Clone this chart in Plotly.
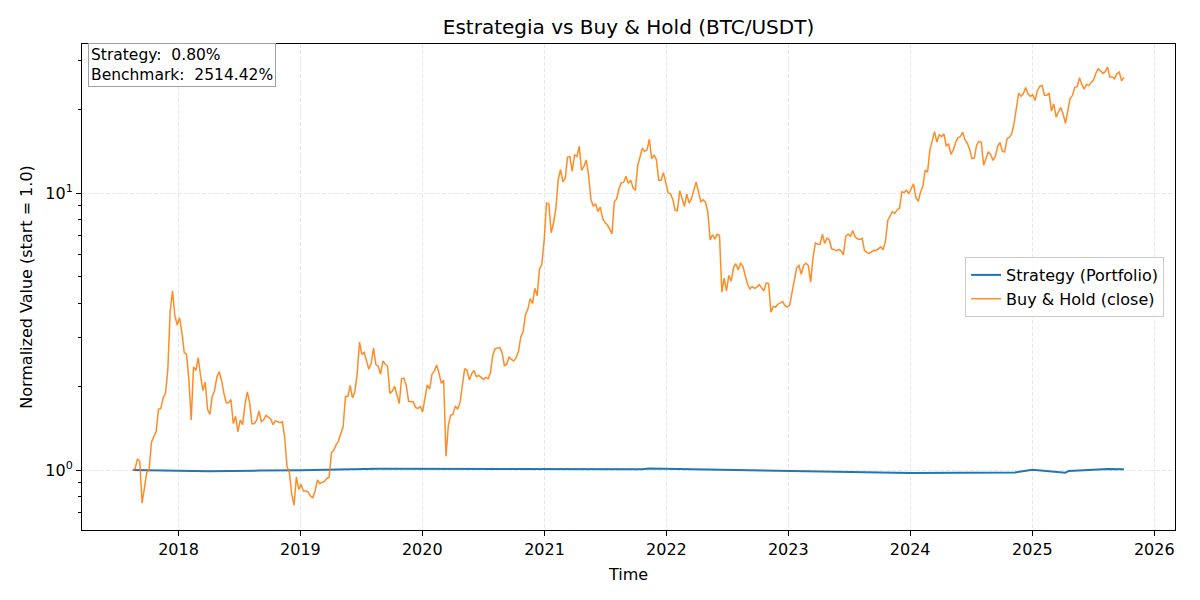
import pandas as pd
import plotly.graph_objects as go

# weekly BTC/USDT close (Thursdays), starting 2017-08-17
btc_2017 = [4285, 4330, 4700,
            4600, 3250, 3650, 4200,
            4300, 5400, 5650, 5900,
            7100, 7150, 7800, 8100, 9900,
            16000, 19000, 15500, 14300]
btc_2018 = [15200, 13500, 11400, 11200,
            9100, 6500, 10100, 9800,
            10900, 9400, 8300, 8900, 7100,
            6800, 7900, 8300, 9300,
            9700, 9000, 8100, 7500, 7500,
            7700, 6300, 6700, 5900,
            6500, 6250, 7350, 8200,
            7500, 6300, 6300, 6500, 7000,
            6400, 6500, 6750, 6650,
            6550, 6250, 6450, 6400,
            6350, 6400, 5600, 4400, 4200,
            3500, 3200, 4050, 3650]
btc_2019 = [3800, 3600, 3600, 3570, 3450,
            3400, 3600, 3950, 3830,
            3870, 3900, 4000, 4030,
            4950, 5050, 5280, 5450,
            5800, 6150, 7900, 7900, 8650,
            7800, 8200, 9550, 12400,
            11200, 11400, 10600, 9900,
            10400, 11800, 10300, 10150, 9500,
            10600, 10350, 10150, 8100,
            8250, 8600, 8000, 7450, 9150,
            9200, 8650, 7600, 7550,
            7550, 7200, 7150, 7250]
btc_2020 = [6950, 7800, 8700, 8400, 9500,
            9750, 10250, 9600, 8800,
            9050, 4800, 6200, 6750,
            6800, 7300, 7100, 7500, 8650,
            9950, 9800, 9050, 9550,
            9800, 9300, 9400, 9250,
            9100, 9250, 9150, 9600, 11100,
            11750, 11800, 11850, 11350,
            10200, 10350, 10950, 10750,
            10600, 10900, 11500, 12950, 13550,
            15600, 16300, 17800, 17100,
            19400, 18250, 22800, 23700, 29000]
btc_2021 = [39400, 39100, 30800, 33400,
            37600, 47900, 52100, 47000,
            48400, 57800, 58000, 51300,
            58800, 58000, 63200, 51700, 53500,
            56400, 49700, 40600, 38400,
            39200, 36700, 38100, 34700,
            33500, 32900, 31800, 30500, 39900,
            40800, 44400, 46700, 46800,
            49300, 46400, 47700, 44800, 43800,
            53800, 57400, 62200, 60600,
            61400, 67000, 56900, 58900,
            56500, 47600, 47600, 50800, 47100]
btc_2022 = [43000, 42600, 40700, 37200,
            37000, 43700, 40500, 38300,
            42500, 39400, 40900, 43900, 47000,
            43400, 39900, 40500, 39700,
            36600, 29000, 30300, 29200,
            30400, 30100, 18800, 21100, 19000,
            21600, 20600, 23100, 23800,
            22600, 23950, 23300, 21600,
            20100, 19300, 19700, 19400, 19600,
            20000, 19400, 19000, 20300,
            20200, 15900, 16700, 16600,
            17000, 17200, 17400, 16800, 16600]
btc_2023 = [16850, 18850, 21100, 23000,
            23450, 21800, 23500, 23900,
            23450, 20400, 25000, 28300, 28000,
            28000, 30400, 28200, 29450,
            29000, 26900, 26800, 26500,
            26800, 26500, 25600, 29900, 30450,
            29900, 31400, 29800, 29300,
            29150, 29400, 26600, 26150, 25950,
            26250, 26600, 26550, 27000,
            27400, 26750, 28700, 34200,
            35400, 36700, 36150, 37300, 37700,
            43300, 43000, 43900, 42600]
btc_2024 = [44200, 46300, 41300, 40000,
            43100, 45300, 51800, 51000, 61200,
            67000, 71400, 65500, 69500,
            68500, 70000, 63500, 64300,
            59100, 61200, 65200, 67900, 68400,
            71100, 66800, 64900, 61600,
            57000, 57300, 63900, 65800,
            65300, 54000, 57500, 60400, 59000,
            56200, 58100, 63200, 65200,
            60700, 60300, 67400, 68100, 70200,
            76500, 87200, 98400, 95700,
            98000, 103000, 97500, 95800]
btc_2025 = [96900, 92500, 100500, 104000, 104700,
            96600, 96600, 98300, 84700,
            89900, 80500, 84200, 87200,
            82500, 76500, 84900, 93900,
            96500, 103200, 103700, 111700, 105700,
            101500, 105700, 104600, 107300,
            109600, 116000, 120500, 118300, 115800,
            117500, 122000, 112500, 112500,
            110700, 115500, 117100, 109000,
            112030]

# strategy equity (normalized), sparse checkpoints
strat_dates = ["2017-08-17", "2017-12-01", "2018-04-01", "2018-09-01", "2019-01-01",
               "2019-08-20", "2020-06-01", "2021-03-01", "2021-10-20", "2021-11-10",
               "2022-06-01", "2023-01-01", "2023-09-01", "2024-01-01", "2024-06-01",
               "2024-11-10", "2025-01-01", "2025-02-15", "2025-04-10", "2025-04-20",
               "2025-07-01", "2025-08-15", "2025-10-02"]
strat_vals = [1.000, 0.998, 0.990, 0.995, 0.998,
              1.010, 1.008, 1.006, 1.006, 1.012,
              1.002, 0.992, 0.985, 0.975, 0.978,
              0.980, 1.002, 0.992, 0.978, 0.992,
              1.002, 1.008, 1.006]

btc = btc_2017 + btc_2018 + btc_2019 + btc_2020 + btc_2021 + btc_2022 + btc_2023 + btc_2024 + btc_2025
dates = pd.date_range("2017-08-17", periods=len(btc), freq="7D")
bench = pd.Series(btc, index=dates) / btc[0]

FONT = "DejaVu Sans"
# the page body has an 8px margin, so the figure is a bit smaller than the window
W, H = 1192, 592

fig = go.Figure()
fig.add_trace(go.Scatter(x=pd.to_datetime(strat_dates), y=strat_vals, mode="lines",
                         name="Strategy (Portfolio)", line=dict(color="#1f77b4", width=2)))
fig.add_trace(go.Scatter(x=bench.index, y=bench.values, mode="lines",
                         name="Buy & Hold (close)", line=dict(color="rgba(255,127,14,0.9)", width=1.5)))

fig.add_annotation(xref="paper", yref="paper", x=0, y=1, xanchor="left", yanchor="top",
                   xshift=6, yshift=1, align="left", showarrow=False,
                   text="Strategy:  0.80%<br>Benchmark:  2514.42%",
                   font=dict(family=FONT, size=15.5, color="black"),
                   bgcolor="rgba(255,255,255,0.8)", bordercolor="#a0a0a0", borderwidth=1, borderpad=2)

grid = dict(showgrid=True, gridcolor="rgba(176,176,176,0.3)", griddash="4px,2px", gridwidth=0.8)

fig.update_layout(
    width=W, height=H,
    margin=dict(l=74, r=25, t=36, b=70),
    paper_bgcolor="white", plot_bgcolor="white",
    font=dict(family=FONT, size=15, color="black"),
    title=dict(text="Estrategia vs Buy & Hold (BTC/USDT)", x=0.5, xref="paper",
               y=1 - 19 / H, yanchor="middle", font=dict(size=20)),
    legend=dict(x=0.99, xanchor="right", y=0.5, yanchor="middle",
                bgcolor="rgba(255,255,255,0.8)", bordercolor="#cccccc", borderwidth=1,
                font=dict(size=16)),
    showlegend=True,
)
fig.update_xaxes(
    type="date", range=["2017-03-18", "2026-03-04"],
    dtick="M12", tick0="2018-01-01", tickformat="%Y",
    ticks="outside", ticklen=5, tickcolor="black", tickfont=dict(size=16),
    showline=True, linecolor="black", linewidth=1, mirror=True,
    zeroline=False,
    title=dict(text="Time", standoff=10, font=dict(size=16)),
    **grid,
)
fig.update_yaxes(
    type="log", range=[-0.2166, 1.538],
    tickmode="array", tickvals=[1, 10], ticktext=["10<sup>0</sup>", "10<sup>1</sup>"],
    ticks="outside", ticklen=5, tickcolor="black", tickfont=dict(size=16),
    minor=dict(tickmode="array", tickvals=[0.7, 0.8, 0.9, 2, 3, 4, 5, 6, 7, 8, 9, 20, 30],
               ticks="outside", ticklen=3, tickcolor="black", showgrid=False),
    showline=True, linecolor="black", linewidth=1, mirror=True,
    zeroline=False,
    title=dict(text="Normalized Value (start = 1.0)", standoff=8, font=dict(size=16)),
    **grid,
)

fig.write_html("out.html")
